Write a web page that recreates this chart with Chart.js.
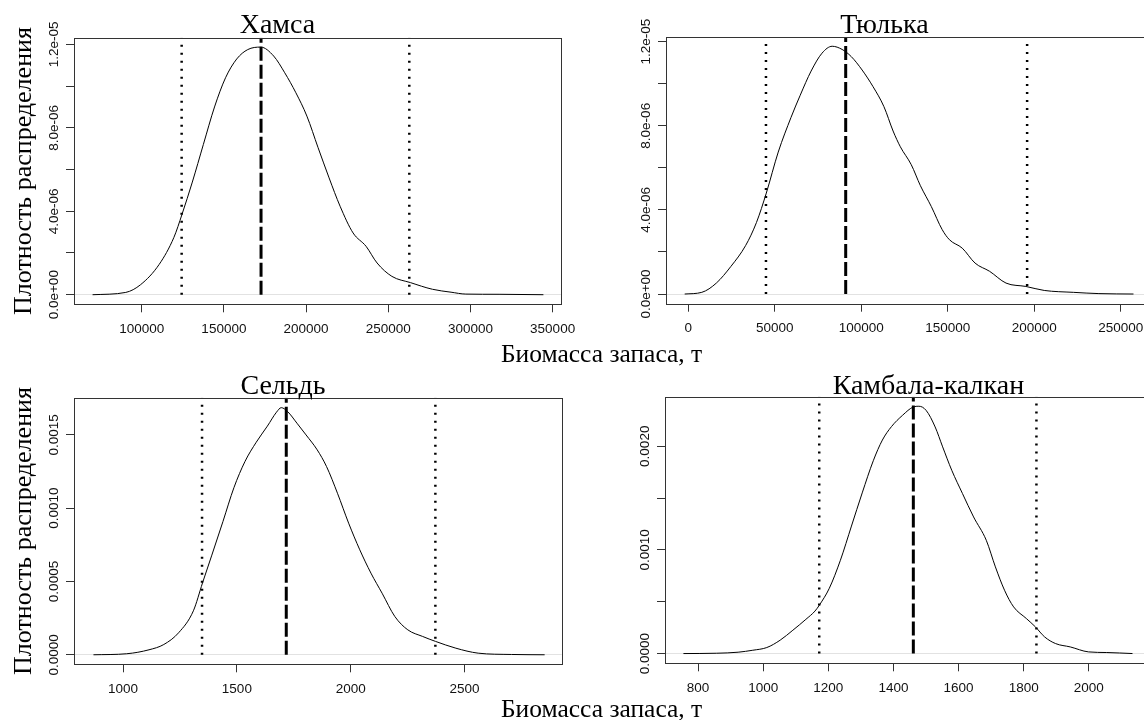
<!DOCTYPE html>
<html>
<head>
<meta charset="utf-8">
<script src="https://cdn.jsdelivr.net/npm/chart.js@4.4.1/dist/chart.umd.min.js"></script>
<style>
  body { margin: 0; width: 1144px; height: 720px; overflow: hidden; background: #fff; position: relative; }
  canvas { position: absolute; }
  .txt { position: absolute; width: 400px; text-align: center; font-family: "Liberation Serif"; color: #000; white-space: nowrap; }
  .main { font-size: 28px; line-height: 28px; }
  .xlab { font-size: 25.5px; line-height: 25.5px; left: 401.6px; }
</style>
</head>
<body>
<canvas id="grafico1" width="590" height="360" style="left:0;top:0"></canvas>
<canvas id="grafico2" width="600" height="360" style="left:572px;top:0"></canvas>
<canvas id="grafico3" width="590" height="360" style="left:0;top:360px"></canvas>
<canvas id="grafico4" width="600" height="360" style="left:572px;top:360px"></canvas>
<div class="txt main" style="left:77.5px;top:9.8px">Хамса</div>
<div class="txt main" style="left:684.5px;top:9.8px">Тюлька</div>
<div class="txt main" style="left:83px;top:370.8px">Сельдь</div>
<div class="txt main" style="left:728.4px;top:370.8px">Камбала-калкан</div>
<div class="txt xlab" style="top:340.6px">Биомасса запаса, т</div>
<div class="txt xlab" style="top:696.3px">Биомасса запаса, т</div>
<script>
// Хамса
const hamsaX = [70100, 90300, 99300, 110600, 119600, 124500, 130800, 137500, 144300, 151000, 157800, 164500, 172400, 180300, 187000, 193800, 200500, 207300, 214000, 220700, 228600, 236500, 243200, 252200, 263500, 276900, 288200, 297200, 317400, 344400];
const hamsaY = [0, 1.1e-7, 4.8e-7, 1.45e-6, 2.75e-6, 3.85e-6, 5.4e-6, 7.2e-6, 9.0e-6, 1.04e-5, 1.13e-5, 1.175e-5, 1.187e-5, 1.144e-5, 1.064e-5, 9.68e-6, 8.56e-6, 7.05e-6, 5.6e-6, 4.24e-6, 2.96e-6, 2.32e-6, 1.52e-6, 8.8e-7, 5.8e-7, 2.6e-7, 1.2e-7, 3e-8, 2e-8, 0];
const hamsaLines = [124300, 172600, 262800];
const hamsaXTicks = [100000, 150000, 200000, 250000, 300000, 350000];
const hamsaXLabels = ["100000", "150000", "200000", "250000", "300000", "350000"];
const hamsaYTicks = [0, 2e-6, 4e-6, 6e-6, 8e-6, 1e-5, 1.2e-5];
const hamsaYLabels = ["0.0e+00", "", "4.0e-06", "", "8.0e-06", "", "1.2e-05"];

// Тюлька
const tulkaX = [-2100, 7800, 16200, 24600, 33100, 39400, 45100, 52000, 59400, 64700, 71000, 77300, 83200, 88900, 94200, 100500, 106800, 113100, 118400, 122600, 128900, 134200, 140500, 146800, 151000, 158400, 165800, 174200, 183700, 195200, 205800, 222600, 237400, 257400];
const tulkaY = [0, 8e-8, 5.2e-7, 1.31e-6, 2.3e-6, 3.4e-6, 4.8e-6, 6.75e-6, 8.4e-6, 9.45e-6, 1.06e-5, 1.145e-5, 1.178e-5, 1.163e-5, 1.129e-5, 1.065e-5, 9.86e-6, 8.91e-6, 7.75e-6, 7.0e-6, 6.15e-6, 5.15e-6, 4.16e-6, 3.06e-6, 2.58e-6, 2.18e-6, 1.47e-6, 1.08e-6, 5.2e-7, 3.6e-7, 1.7e-7, 8e-8, 2e-8, 0];
const tulkaLines = [44900, 91000, 195900];
const tulkaXTicks = [0, 50000, 100000, 150000, 200000, 250000];
const tulkaXLabels = ["0", "50000", "100000", "150000", "200000", "250000"];
const tulkaYTicks = [0, 2e-6, 4e-6, 6e-6, 8e-6, 1e-5, 1.2e-5];
const tulkaYLabels = ["0.0e+00", "", "4.0e-06", "", "8.0e-06", "", "1.2e-05"];

// Сельдь
const seldX = [870, 1016, 1114, 1179, 1244, 1309, 1349, 1390, 1439, 1487, 1536, 1585, 1634, 1674, 1695, 1723, 1764, 1804, 1853, 1894, 1942, 1991, 2040, 2089, 2138, 2194, 2251, 2316, 2373, 2462, 2560, 2706, 2852];
const seldY = [0, 7e-6, 3.4e-5, 7.0e-5, 1.5e-4, 3.0e-4, 4.9e-4, 6.8e-4, 9.1e-4, 1.14e-3, 1.32e-3, 1.45e-3, 1.56e-3, 1.655e-3, 1.686e-3, 1.659e-3, 1.58e-3, 1.5e-3, 1.398e-3, 1.284e-3, 1.102e-3, 8.98e-4, 7.16e-4, 5.57e-4, 4.2e-4, 2.61e-4, 1.7e-4, 1.25e-4, 9.1e-5, 4.5e-5, 1.1e-5, 2e-6, 0];
const seldLines = [1347, 1717, 2372];
const seldXTicks = [1000, 1500, 2000, 2500];
const seldXLabels = ["1000", "1500", "2000", "2500"];
const seldYTicks = [0, 0.0005, 0.001, 0.0015];
const seldYLabels = ["0.0000", "0.0005", "0.0010", "0.0015"];

// Камбала-калкан
const kambX = [755, 856, 923, 968, 1011, 1052, 1091, 1131, 1159, 1173, 1203, 1237, 1271, 1304, 1338, 1366, 1394, 1428, 1461, 1478, 1500, 1528, 1551, 1579, 1612, 1646, 1685, 1713, 1741, 1769, 1808, 1836, 1864, 1898, 1943, 1999, 2055, 2134];
const kambY = [0, 3e-6, 1.3e-5, 3.2e-5, 5.8e-5, 1.29e-4, 2.25e-4, 3.3e-4, 4.1e-4, 4.7e-4, 6.3e-4, 9.0e-4, 1.23e-3, 1.55e-3, 1.86e-3, 2.06e-3, 2.19e-3, 2.299e-3, 2.379e-3, 2.386e-3, 2.347e-3, 2.186e-3, 1.994e-3, 1.768e-3, 1.543e-3, 1.318e-3, 1.093e-3, 8.36e-4, 6.11e-4, 4.5e-4, 3.38e-4, 2.57e-4, 1.61e-4, 9.6e-5, 6.4e-5, 1.6e-5, 1e-5, 0];
const kambLines = [1172, 1461, 1839];
const kambXTicks = [800, 1000, 1200, 1400, 1600, 1800, 2000];
const kambXLabels = ["800", "1000", "1200", "1400", "1600", "1800", "2000"];
const kambYTicks = [0, 0.0005, 0.001, 0.0015, 0.002];
const kambYLabels = ["0.0000", "", "0.0010", "", "0.0020"];

const tickFont = { family: 'Liberation Sans', size: 13.5 };
const tickLen = 8;

// ширина самой длинной подписи, чтобы центр повернутых подписей был в 20px от рамки
let measure = document.createElement('canvas').getContext('2d');
measure.font = '13.5px "Liberation Sans"';
function widest(labels) {
  return Math.max(...labels.map(l => measure.measureText(l).width));
}

const boxPlugin = {
  id: 'box',
  afterDraw(chart) {
    const a = chart.chartArea;
    const c = chart.ctx;
    c.save();
    c.strokeStyle = '#333';
    c.lineWidth = 1;
    const l = Math.round(a.left) + 0.5, t = Math.round(a.top) + 0.5;
    const r = Math.round(a.right) + 0.5, b = Math.round(a.bottom) + 0.5;
    c.strokeRect(l, t, r - l, b - t);
    c.restore();
  }
};

function vline(x, yMax, dashed) {
  return {
    data: [{ x: x, y: 0 }, { x: x, y: yMax }],
    borderColor: '#000',
    borderWidth: dashed ? 3 : 2.5,
    borderDash: dashed ? [14, 4] : [2, 6],
    pointRadius: 0
  };
}

function panel(id, p) {
  let ctx = document.getElementById(id).getContext('2d');
  return new Chart(ctx, {
    type: 'line',
    data: {
      datasets: [
        {
          data: p.xs.map((x, i) => ({ x: x, y: p.ys[i] })),
          borderColor: '#000',
          borderWidth: 1,
          pointRadius: 0,
          cubicInterpolationMode: 'monotone'
        },
        vline(p.lines[0], p.yMax, false),
        vline(p.lines[1], p.yMax, true),
        vline(p.lines[2], p.yMax, false)
      ]
    },
    options: {
      responsive: false,
      animation: false,
      devicePixelRatio: 1,
      layout: { padding: { left: 0, top: p.padTop, right: p.padRight, bottom: p.padBottom } },
      plugins: {
        legend: { display: false },
        tooltip: { enabled: false }
      },
      scales: {
        x: {
          type: 'linear',
          min: p.xMin,
          max: p.xMax,
          afterBuildTicks: s => { s.ticks = p.xTicks.map(v => ({ value: v })); },
          afterFit: s => { s.height = 40; },
          border: { display: false },
          grid: { drawOnChartArea: false, tickLength: tickLen, color: '#333', tickColor: '#333' },
          ticks: {
            autoSkip: false, minRotation: 0, maxRotation: 0, padding: 8.5,
            color: '#111', font: tickFont,
            callback: (v, i) => p.xLabels[i]
          }
        },
        y: {
          type: 'linear',
          min: p.yMin,
          max: p.yMax,
          afterBuildTicks: s => { s.ticks = p.yTicks.map(v => ({ value: v })); },
          afterFit: s => { s.width = p.yWidth; },
          border: { display: false },
          grid: {
            tickLength: tickLen,
            tickColor: '#333',
            color: c => (c.tick && c.tick.value === 0) ? '#e2e2e2' : 'rgba(0,0,0,0)'
          },
          ticks: {
            autoSkip: false, minRotation: 90, maxRotation: 90, crossAlign: 'center',
            padding: 20 - tickLen - widest(p.yLabels) / 2,
            color: '#111', font: tickFont,
            callback: (v, i) => p.yLabels[i]
          },
          title: {
            display: !!p.yTitle,
            text: p.yTitle || '',
            color: '#000',
            font: { family: 'Liberation Serif', size: 26, weight: 'normal', lineHeight: 1 },
            padding: { top: 11, bottom: 0 }
          }
        }
      }
    },
    plugins: [boxPlugin]
  });
}

var chart1 = panel('grafico1', {
  yTitle: 'Плотность распределения',
  xs: hamsaX, ys: hamsaY, lines: hamsaLines,
  xMin: 58800, xMax: 355100, xTicks: hamsaXTicks, xLabels: hamsaXLabels,
  yMin: -4.6e-7, yMax: 1.232e-5, yTicks: hamsaYTicks, yLabels: hamsaYLabels,
  yWidth: 74, padTop: 37.7, padRight: 29, padBottom: 15.7
});

var chart2 = panel('grafico2', {
  xs: tulkaX, ys: tulkaY, lines: tulkaLines,
  xMin: -12900, xMax: 268100, xTicks: tulkaXTicks, xLabels: tulkaXLabels,
  yMin: -4.6e-7, yMax: 1.222e-5, yTicks: tulkaYTicks, yLabels: tulkaYLabels,
  yWidth: 94, padTop: 37, padRight: 20, padBottom: 16.3
});

var chart3 = panel('grafico3', {
  yTitle: 'Плотность распределения',
  xs: seldX, ys: seldY, lines: seldLines,
  xMin: 784.5, xMax: 2927, xTicks: seldXTicks, xLabels: seldXLabels,
  yMin: -6.5e-5, yMax: 0.001754, yTicks: seldYTicks, yLabels: seldYLabels,
  yWidth: 74, padTop: 37.7, padRight: 28.3, padBottom: 15.7
});

var chart4 = panel('grafico4', {
  xs: kambX, ys: kambY, lines: kambLines,
  xMin: 698.4, xMax: 2193.9, xTicks: kambXTicks, xLabels: kambXLabels,
  yMin: -9.4e-5, yMax: 0.002478, yTicks: kambYTicks, yLabels: kambYLabels,
  yWidth: 93, padTop: 36.7, padRight: 20, padBottom: 16.7
});
</script>
</body>
</html>
